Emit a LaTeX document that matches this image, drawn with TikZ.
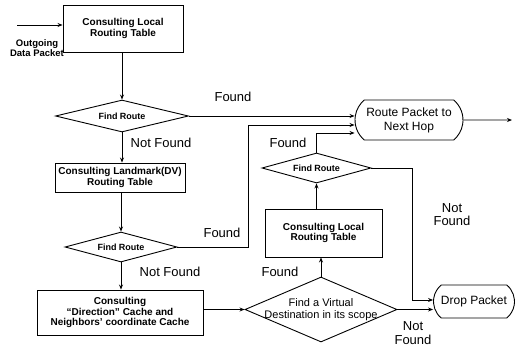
\documentclass[tikz,border=0pt]{standalone}
\usepackage{fontspec}
\setmainfont{Liberation Sans}
\usetikzlibrary{arrows.meta,shapes.geometric,shapes.misc,calc}

\begin{document}
\begin{tikzpicture}[x=1pt,y=-1pt,>={Stealth[length=5pt,width=4pt]},line width=0.9pt,
        box/.style={draw,rectangle,align=center,inner sep=1pt,
          font=\bfseries\fontsize{10}{10.5}\selectfont},
        decide/.style={draw,diamond,aspect=3,align=center,inner sep=0pt,
          font=\bfseries\fontsize{9}{10}\selectfont},
        term/.style={draw,rounded rectangle,rounded rectangle arc length=100,
          align=center,inner xsep=0pt,inner ysep=1pt,font=\fontsize{12}{14}\selectfont},
        lbl/.style={align=center,inner sep=0pt,font=\fontsize{13}{13.5}\selectfont}]

  \useasboundingbox (0,0) rectangle (515,349);

  % left column
  \node[box,minimum width=120,minimum height=47] (local_1) at (123,28.5) {Consulting Local\\Routing Table};
  \node[decide,minimum width=133,minimum height=32] (find_1) at (122,116) {Find Route};
  \node[box,minimum width=130,minimum height=29] (landmark) at (120,177.5) {Consulting Landmark(DV)\\Routing Table};
  \node[decide,minimum width=112,minimum height=30] (find_2) at (121,247) {Find Route};
  \node[box,minimum width=166,minimum height=45] (cache) at (120,312.5)
    {Consulting\\``Direction'' Cache and\\Neighbors' coordinate Cache};

  % right column
  \node[decide,minimum width=152,minimum height=65,
    label={[align=center,font=\fontsize{11}{11.5}\selectfont]center:Find a Virtual\\Destination in its scope}]
    (virtual) at (321,309.5) {};
  \node[box,minimum width=117,minimum height=48] (local_2) at (323.5,233) {Consulting Local\\Routing Table};
  \node[decide,minimum width=109,minimum height=30] (find_3) at (316.5,168) {Find Route};
  \node[term,minimum width=108,minimum height=40] (route) at (409,120) {Route Packet to\\Next Hop};
  \node[term,minimum width=81,minimum height=33] (drop) at (474,301.5) {Drop Packet};

  \coordinate (in) at (17,25);
  \coordinate (out) at (512,120);
  \coordinate (r2) at ($(route.west)+(0,5)$);
  \coordinate (r3) at ($(route.west)+(0,13)$);
  \coordinate (d1) at ($(drop.west)+(0,-1.5)$);

  % connectors
  \draw[->] (in) -- (in -| local_1.west);
  \draw[->] (local_1.south -| find_1) -- (find_1);
  \draw[->] (find_1.east) -- (find_1.east -| route.west);
  \draw[->] (find_1) -- (find_1 |- landmark.north);
  \draw[->] (landmark.south -| find_2) -- (find_2);
  \draw[->] (find_2.east) -- ++(71,0) |- (r2);
  \draw[->] (find_2) -- (find_2 |- cache.north);
  \draw[->] (cache.east |- virtual) -- (virtual);
  \draw[->] (virtual) -- (virtual |- local_2.south);
  \draw[->] (virtual.east) -- (virtual.east -| drop.west);
  \draw[->] (local_2.north -| find_3) -- (find_3);
  \draw[->] (find_3) -- (find_3 |- r3) -- (r3);
  \draw[->] (find_3.east) -- ++(41,0) |- (d1);
  \draw[->] (route) -- (out);

  % labels
  \node[align=center,inner sep=0pt,font=\bfseries\fontsize{9.5}{10}\selectfont] (outgoing) at (37,48) {Outgoing\\Data Packet};
  \node[lbl] (found_1) at (233,97) {Found};
  \node[lbl] (notfound_1) at (161,143) {Not Found};
  \node[lbl] (found_2) at (222,233) {Found};
  \node[lbl] (notfound_2) at (170,272) {Not Found};
  \node[lbl] (found_3) at (288,143) {Found};
  \node[lbl] (notfound_3) at (452,214.5) {Not\\Found};
  \node[lbl] (found_4) at (280,272) {Found};
  \node[lbl] (notfound_4) at (413,333) {Not\\Found};

\end{tikzpicture}
\end{document}
